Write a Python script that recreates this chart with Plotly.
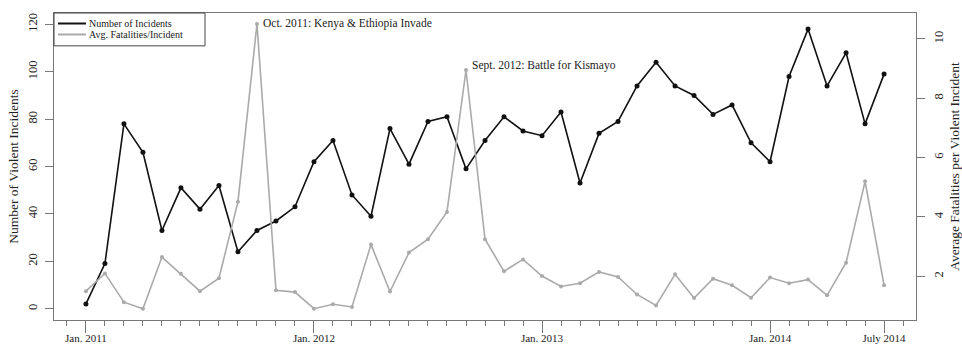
import plotly.graph_objects as go

month_labels = [f"{y}-{m:02d}" for y in (2011, 2012, 2013, 2014) for m in range(1, 13)][:43]
month_index = list(range(len(month_labels)))

incidents = [2, 19, 78, 66, 33, 51, 42, 52, 24, 33, 37, 43,
             62, 71, 48, 39, 76, 61, 79, 81, 59, 71, 81, 75,
             73, 83, 53, 74, 79, 94, 104, 94, 90, 82, 86, 70,
             62, 98, 118, 94, 108, 78, 99]

fatalities = [1.5, 2.1, 1.13, 0.91, 2.65, 2.09, 1.5, 1.94, 4.51, 10.5, 1.53, 1.47,
              0.91, 1.06, 0.97, 3.07, 1.49, 2.8, 3.25, 4.17, 8.95, 3.25, 2.17, 2.57,
              2.01, 1.66, 1.77, 2.15, 1.98, 1.39, 1.02, 2.07, 1.27, 1.92, 1.7, 1.28,
              1.96, 1.77, 1.89, 1.36, 2.46, 5.2, 1.7]

major_tick_pos = [0, 12, 24, 36, 42]
major_tick_text = ["Jan. 2011", "Jan. 2012", "Jan. 2013", "Jan. 2014", "July 2014"]

left_ticks = [0, 20, 40, 60, 80, 100, 120]
right_ticks = [2, 4, 6, 8, 10]

events = [(9, "Oct. 2011: Kenya & Ethiopia Invade"), (20, "Sept. 2012: Battle for Kismayo")]
legend_names = ["Number of Incidents", "Avg. Fatalities/Incident"]

FONT = "Liberation Serif"
BLACK = "#111111"
GRAY = "#aaaaaa"
FRAME = "#777777"
TEXT = "#222222"

fig = go.Figure()
fig.add_trace(go.Scatter(x=month_index, y=incidents, mode="lines+markers",
                         line=dict(color=BLACK, width=1.6), marker=dict(color=BLACK, size=5),
                         showlegend=False, yaxis="y"))
fig.add_trace(go.Scatter(x=month_index, y=fatalities, mode="lines+markers",
                         line=dict(color=GRAY, width=1.6), marker=dict(color=GRAY, size=4),
                         showlegend=False, yaxis="y2"))

for m, txt in events:
    fig.add_annotation(x=m, y=fatalities[m], yref="y2", text=txt, showarrow=False,
                       xanchor="left", yanchor="middle", xshift=4, yshift=0 if m == 9 else 5,
                       font=dict(family=FONT, size=11.5, color=TEXT))

# compact R-style legend box (top-left corner of the plot area)
fig.add_shape(type="rect", xref="paper", yref="paper", x0=0, x1=0.1752, y0=0.893, y1=1,
              line=dict(color="#444", width=1), fillcolor="white", layer="above")
for i, (name, col) in enumerate(zip(legend_names, [BLACK, GRAY])):
    yy = 0.9658 - i * 0.0358
    fig.add_shape(type="line", xref="paper", yref="paper", x0=0.0046, x1=0.0371, y0=yy, y1=yy,
                  line=dict(color=col, width=2), layer="above")
    fig.add_annotation(xref="paper", yref="paper", x=0.0394, y=yy, text=name, showarrow=False,
                       xanchor="left", yanchor="middle", borderpad=0,
                       font=dict(family=FONT, size=10, color=TEXT))

fig.update_layout(
    width=962, height=347,
    margin=dict(l=54, r=46, t=13, b=27, autoexpand=False),
    paper_bgcolor="white", plot_bgcolor="white",
    font=dict(family=FONT, color=TEXT),
    showlegend=False,
    xaxis=dict(range=[-1.68, 43.68], tickmode="array", tickvals=major_tick_pos,
               ticktext=major_tick_text, ticks="outside", ticklen=12, tickcolor=FRAME,
               ticklabelstandoff=-4, automargin=False,
               tickfont=dict(size=11, family=FONT), showgrid=False, zeroline=False,
               showline=True, linecolor=FRAME, linewidth=1, mirror=True,
               minor=dict(ticks="outside", ticklen=5, dtick=1, tick0=0, tickcolor=FRAME)),
    yaxis=dict(range=[-4.8, 124.8], tickmode="array", tickvals=left_ticks, ticks="outside",
               ticklen=8, tickcolor=FRAME, tickangle=-90, tickfont=dict(size=12.5, family=FONT),
               ticklabelstandoff=3, automargin=False,
               showgrid=False, zeroline=False, showline=True, linecolor=FRAME, mirror=True,
               title=dict(text="Number of Violent Incidents", font=dict(size=13.5, family=FONT), standoff=4)),
    yaxis2=dict(range=[0.53, 10.87], overlaying="y", side="right", tickmode="array",
                tickvals=right_ticks, ticks="outside", ticklen=8, tickcolor=FRAME, tickangle=-90,
                tickfont=dict(size=12.5, family=FONT), ticklabelstandoff=3, automargin=False,
                showgrid=False, zeroline=False, showline=False,
                title=dict(text="Average Fatalities per Violent Incident", font=dict(size=13.5, family=FONT), standoff=9)),
)

fig.write_html("out.html")
